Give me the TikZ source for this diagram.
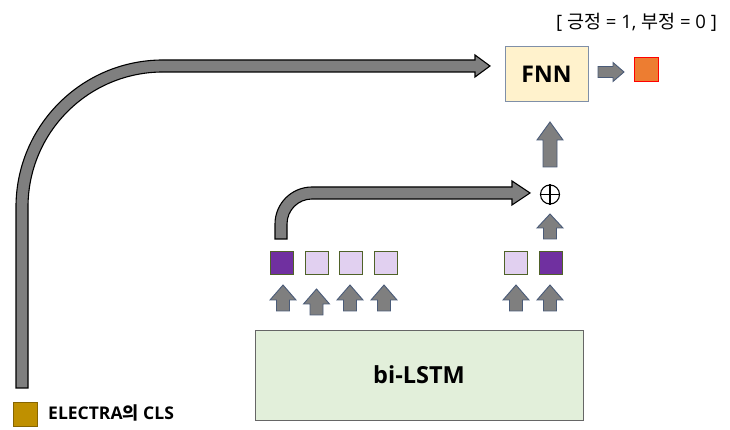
\documentclass[tikz,border=0pt]{standalone}
\usepackage{fontspec}
\setmainfont{Open Sans}
\newfontfamily\kr{Noto Sans CJK KR}
\usetikzlibrary{shapes.geometric}
\definecolor{agray}{HTML}{7F7F7F}
\definecolor{aslate}{HTML}{4A5B78}
\definecolor{dpurp}{HTML}{7030A0}
\definecolor{lpurp}{HTML}{E1D0F0}
\definecolor{sqgreen}{HTML}{4F6228}
\definecolor{lstmfill}{HTML}{E2EFDA}
\definecolor{fnnfill}{HTML}{FFF2CC}
\definecolor{fnnedge}{HTML}{7F8FA8}
\definecolor{outorange}{HTML}{ED7D31}
\definecolor{clsgold}{HTML}{BF9000}
\tikzset{
  blk/.style={fill=agray, draw=aslate, line width=0.9pt, line join=miter},
  bigblk/.style={fill=agray, draw=black, line width=1.1pt, line join=miter},
  tok/.style={draw=sqgreen, line width=1pt, minimum width=23pt, minimum height=23pt, inner sep=0pt},
}
\newcommand{\uparw}[6]{%
  \draw[blk] (#1-#4,#2) -- (#1-#4,#3-#6) -- (#1-#5,#3-#6) -- (#1,#3) -- (#1+#5,#3-#6) -- (#1+#4,#3-#6) -- (#1+#4,#2) -- cycle;}
\begin{document}
\begin{tikzpicture}[x=1pt,y=1pt]
\useasboundingbox (0,0) rectangle (730,430);
% top label
\node[font=\fontsize{18.5}{18.5}\selectfont, anchor=center, inner sep=0pt] (lbl) at (636.5,408) {[ {\kr 긍정} = 1, {\kr 부정} = 0 ]};
% FNN
\node[draw=fnnedge, fill=fnnfill, line width=1pt, minimum width=83pt, minimum height=55pt, font=\bfseries\fontsize{23}{23}\selectfont] (fnn) at (546.5,355.5) {FNN};
% output square
\node[draw=red, fill=outorange, line width=1pt, minimum width=24pt, minimum height=24pt, inner sep=0pt] (out) at (646,360.5) {};
% right arrow FNN -> out
\draw[blk] (598,363.5) -- (613,363.5) -- (613,367.5) -- (624,358) -- (613,348.5) -- (613,352.5) -- (598,352.5) -- cycle;
% bi-LSTM
\node[draw=black!60, fill=lstmfill, line width=0.8pt, minimum width=328pt, minimum height=90pt, font=\bfseries\fontsize{23.5}{23.5}\selectfont] (lstm) at (419,55) {bi-LSTM};
% tokens
\node[tok, fill=dpurp] (t1) at (282,166.5) {};
\node[tok, fill=lpurp] (t2) at (316.5,166.5) {};
\node[tok, fill=lpurp] (t3) at (350.5,166.5) {};
\node[tok, fill=lpurp] (t4) at (385.5,166.5) {};
\node[tok, fill=lpurp] (t5) at (516,166.5) {};
\node[tok, fill=dpurp] (t6) at (551,166.5) {};
% small up arrows
\uparw{283}{119}{145}{6.5}{13}{15}
\uparw{316.5}{115}{141}{6.5}{13}{15}
\uparw{350}{119}{145}{6.5}{13}{15}
\uparw{384}{119}{145}{6.5}{13}{15}
\uparw{516}{119}{145}{6.5}{13}{15}
\uparw{550}{119}{145}{6.5}{13}{15}
% plus
\node[circle, draw=black, line width=1.1pt, minimum size=19pt, inner sep=0pt] (plus) at (550,235.5) {};
\draw[line width=1.1pt] (plus.north) -- (plus.south) (plus.west) -- (plus.east);
% arrow under plus
\uparw{550}{191}{216}{6.5}{13}{14}
% arrow to FNN
\uparw{550}{263}{308}{7}{13}{18}
% small curved arrow
\draw[bigblk] (275,191) -- (275,206) arc[start angle=180, end angle=90, radius=37] -- (512,243) -- (512,249) -- (530,237) -- (512,225) -- (512,231) -- (312,231) arc[start angle=90, end angle=180, radius=25] -- (287,191) -- cycle;
% big curved arrow
\draw[bigblk] (16,42) -- (16,223) arc[start angle=180, end angle=90, radius=147] -- (475,370) -- (475,375) -- (490,364) -- (475,353) -- (475,358) -- (163,358) arc[start angle=90, end angle=180, radius=135] -- (28,42) -- cycle;
% CLS
\node[draw=clsgold!70!black, fill=clsgold, line width=0.8pt, minimum width=24pt, minimum height=24pt, inner sep=0pt] (cls) at (25,15.5) {};
\node[anchor=west, inner sep=0pt, font=\bfseries\fontsize{17.5}{17.5}\selectfont] (clslbl) at (48,17) {ELECTRA{\kr 의} CLS};
\end{tikzpicture}
\end{document}
